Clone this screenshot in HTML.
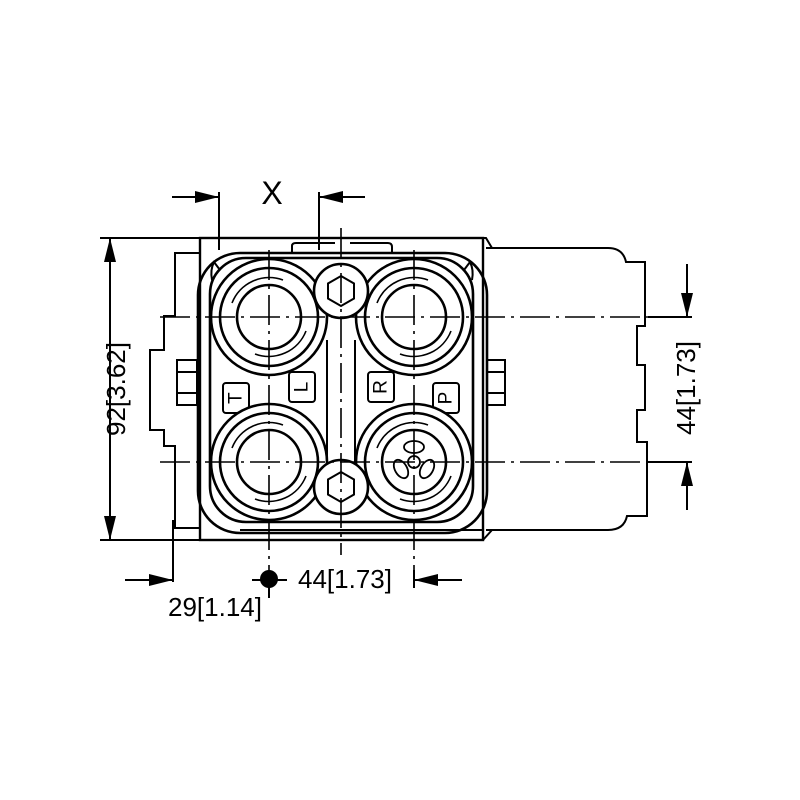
<!DOCTYPE html>
<html><head><style>html,body{margin:0;padding:0;background:#fff}svg{display:block}</style></head><body>
<svg width="800" height="800" viewBox="0 0 800 800" xmlns="http://www.w3.org/2000/svg" font-family="Liberation Sans, sans-serif">
<g fill="none" stroke="#000" stroke-width="2">
<path d="M486 248 H608 Q623 248 626 262 H645 V326 H637 V365 H645 V410 H637 V442 H647 V516 H627 Q624 530 608 530 H486"/>
<path d="M483 238 H486 L492 248"/>
<path d="M483 540 L492 530"/>
<path d="M200 253 H175 V316 H164 V350 H150 V430 H164 V446 H175 V528 H200"/>
<rect x="177" y="360" width="20" height="45"/>
<line x1="177" y1="372" x2="197" y2="372"/><line x1="177" y1="393" x2="197" y2="393"/>
<rect x="487" y="360" width="18" height="45"/>
<line x1="487" y1="372" x2="505" y2="372"/><line x1="487" y1="393" x2="505" y2="393"/>
<rect x="200" y="238" width="283" height="302" stroke-width="2.4"/>
<line x1="240" y1="530" x2="483" y2="530"/>
<path d="M292 253 V246 Q292 243 296 243 H335"/>
<path d="M350 243 H388 Q392 243 392 247 V253"/>
<rect x="198" y="253" width="289" height="280" rx="42" stroke-width="2.6"/>
<rect x="210" y="258" width="263" height="264" rx="36" stroke-width="2.6"/>
<path d="M220 270 L214 262 Q210 270 212 280" />
<path d="M464 270 L470 262 Q474 270 472 280" />
<line x1="327" y1="340" x2="327" y2="470"/>
<line x1="355" y1="340" x2="355" y2="470"/>
<rect x="223" y="383" width="26" height="30" rx="3"/>
<rect x="289" y="372" width="26" height="30" rx="3"/>
<rect x="368" y="372" width="26" height="30" rx="3"/>
<rect x="433" y="383" width="26" height="30" rx="3"/>
</g>
<g fill="none" stroke="#000" stroke-width="2.6">
<g transform="translate(269,317)"><circle r="58" fill="#fff"/><circle r="49"/><circle r="32"/><path d="M-37 -14 A40 40 0 0 1 14 -37" stroke-width="1.6"/><path d="M37 14 A40 40 0 0 1 -14 37" stroke-width="1.6"/></g>
<g transform="translate(414,317)"><circle r="58" fill="#fff"/><circle r="49"/><circle r="32"/><path d="M-37 -14 A40 40 0 0 1 14 -37" stroke-width="1.6"/><path d="M37 14 A40 40 0 0 1 -14 37" stroke-width="1.6"/></g>
<g transform="translate(269,462)"><circle r="58" fill="#fff"/><circle r="49"/><circle r="32"/><path d="M-37 -14 A40 40 0 0 1 14 -37" stroke-width="1.6"/><path d="M37 14 A40 40 0 0 1 -14 37" stroke-width="1.6"/></g>
<g transform="translate(414,462)"><circle r="58" fill="#fff"/><circle r="49"/><circle r="32"/><path d="M-37 -14 A40 40 0 0 1 14 -37" stroke-width="1.6"/><path d="M37 14 A40 40 0 0 1 -14 37" stroke-width="1.6"/>
<g stroke-width="1.8"><circle r="6"/><ellipse cx="0" cy="-15" rx="10" ry="6"/><ellipse cx="-13" cy="7" rx="6" ry="10" transform="rotate(-30 -13 7)"/><ellipse cx="13" cy="7" rx="6" ry="10" transform="rotate(30 13 7)"/></g></g>
<g transform="translate(341,291)"><circle r="27" fill="#fff"/><polygon points="0,-15 13,-7.5 13,7.5 0,15 -13,7.5 -13,-7.5" stroke-width="2"/></g>
<g transform="translate(341,487)"><circle r="27" fill="#fff"/><polygon points="0,-15 13,-7.5 13,7.5 0,15 -13,7.5 -13,-7.5" stroke-width="2"/></g>
</g>
<g font-size="19" fill="#000">
<text x="236" y="398" transform="rotate(-90 236 398)" text-anchor="middle" dominant-baseline="central">T</text>
<text x="302" y="387" transform="rotate(-90 302 387)" text-anchor="middle" dominant-baseline="central">L</text>
<text x="381" y="387" transform="rotate(-90 381 387)" text-anchor="middle" dominant-baseline="central">R</text>
<text x="446" y="398" transform="rotate(-90 446 398)" text-anchor="middle" dominant-baseline="central">P</text>
</g>
<g stroke="#000" stroke-width="1.6" stroke-dasharray="30 6 3 6" fill="none">
<line x1="160" y1="317" x2="650" y2="317"/>
<line x1="160" y1="462" x2="650" y2="462"/>
<line x1="269" y1="250" x2="269" y2="582"/>
<line x1="414" y1="250" x2="414" y2="582"/>
<line x1="341" y1="228" x2="341" y2="555"/>
</g>
<g stroke="#000" stroke-width="2" fill="none">
<line x1="100" y1="238" x2="200" y2="238"/>
<line x1="100" y1="540" x2="200" y2="540"/>
<line x1="110" y1="238" x2="110" y2="540"/>
<line x1="219" y1="192" x2="219" y2="250"/>
<line x1="319" y1="192" x2="319" y2="250"/>
<line x1="172" y1="197" x2="219" y2="197"/>
<line x1="319" y1="197" x2="365" y2="197"/>
<line x1="648" y1="317" x2="692" y2="317"/>
<line x1="648" y1="462" x2="692" y2="462"/>
<line x1="687" y1="264" x2="687" y2="317"/>
<line x1="687" y1="462" x2="687" y2="510"/>
<line x1="173" y1="520" x2="173" y2="582"/>
<line x1="125" y1="580" x2="173" y2="580"/>
<line x1="414" y1="570" x2="414" y2="588"/>
<line x1="414" y1="580" x2="462" y2="580"/>
<line x1="252" y1="580" x2="287" y2="580"/>
<line x1="269" y1="580" x2="269" y2="598"/>
</g>
<g fill="#000">
<polygon points="110,238 104,262 116,262"/>
<polygon points="110,540 104,516 116,516"/>
<polygon points="219,197 195,191 195,203"/>
<polygon points="319,197 343,191 343,203"/>
<polygon points="687,317 681,293 693,293"/>
<polygon points="687,462 681,486 693,486"/>
<polygon points="173,580 149,574 149,586"/>
<polygon points="414,580 438,574 438,586"/>
<circle cx="269" cy="579" r="9"/>
</g>
<g fill="#000" font-size="26">
<text x="272" y="204" text-anchor="middle" font-size="32">X</text>
<text x="345" y="588" text-anchor="middle">44[1.73]</text>
<text x="215" y="616" text-anchor="middle">29[1.14]</text>
<text x="116" y="389" text-anchor="middle" transform="rotate(-90 116 389)" dominant-baseline="central">92[3.62]</text>
<text x="686" y="388" text-anchor="middle" transform="rotate(-90 686 388)" dominant-baseline="central">44[1.73]</text>
</g>
</svg>
</body></html>
